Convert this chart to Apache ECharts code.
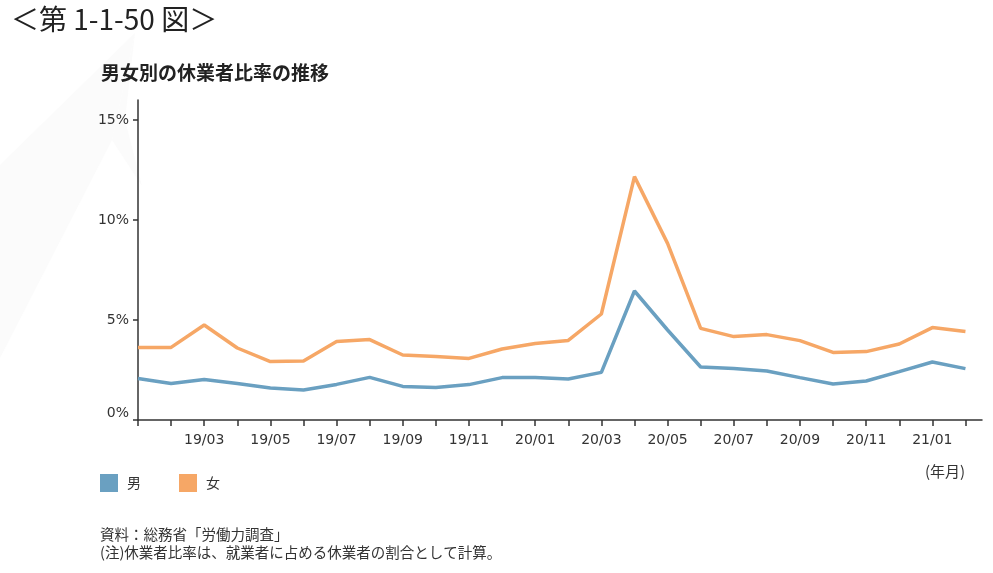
<!DOCTYPE html>
<html>
<head>
<meta charset="utf-8">
<script src="https://cdn.jsdelivr.net/npm/echarts@6/dist/echarts.min.js"></script>
<style>
html,body{margin:0;padding:0;background:#fff;}
#chart{width:993px;height:573px;}
</style>
</head>
<body>
<div id="chart"></div>
<script>
const months = ['19/01','19/02','19/03','19/04','19/05','19/06','19/07','19/08','19/09','19/10','19/11','19/12',
  '20/01','20/02','20/03','20/04','20/05','20/06','20/07','20/08','20/09','20/10','20/11','20/12','21/01','21/02'];
const male = [2.08,1.83,2.03,1.82,1.6,1.5,1.78,2.13,1.68,1.63,1.77,2.12,
  2.12,2.05,2.38,6.45,4.5,2.65,2.58,2.45,2.12,1.8,1.95,2.42,2.9,2.57];
const female = [3.63,3.63,4.75,3.6,2.92,2.95,3.92,4.02,3.25,3.17,3.08,3.55,
  3.82,3.98,5.3,12.17,8.83,4.58,4.17,4.27,3.97,3.38,3.42,3.8,4.62,4.42];
const yTicks = [0,5,10,15];
const xLabelIdx = [2,4,6,8,10,12,14,16,18,20,22,24];
const seriesNames = ['男','女'];
const colors = ['#6aa0c1','#f6a766'];

const toPairs = arr => arr.map((v,i)=>[i,v]);
const chart = echarts.init(document.getElementById('chart'));
const txt = '#333';
const font = "'DejaVu Sans', Verdana, sans-serif";
const jp = "'Noto Sans CJK JP', sans-serif";

chart.setOption({
  animation:false,
  backgroundColor:'#fff',
  color: colors,
  grid:{left:138, right:11, top:100, bottom:153, containLabel:false},
  xAxis:{
    type:'value', min:0, max:25.5,
    axisLine:{show:true, onZero:false, lineStyle:{color:'#333', width:1.5}},
    axisTick:{show:true, length:6, lineStyle:{color:'#333', width:1.5},
      customValues: months.map((m,i)=>i)},
    axisLabel:{color:txt, fontSize:14, fontFamily:font, margin:13,
      customValues: xLabelIdx,
      formatter: v => months[Math.round(v)] || ''},
    splitLine:{show:false}
  },
  yAxis:{
    type:'value', min:0, max:16,
    axisLine:{show:true, lineStyle:{color:'#333', width:1.5}},
    axisTick:{show:true, length:5, lineStyle:{color:'#333', width:1.5}, customValues:yTicks},
    axisLabel:{color:txt, fontSize:14, fontFamily:font, margin:9, customValues:yTicks,
      formatter: v => v === 0 ? '{z|0%}' : v + '%',
      rich:{z:{fontSize:14, fontFamily:font, color:txt, padding:[0,0,14,0]}}},
    splitLine:{show:false}
  },
  legend:{
    left:95, top:469, icon:'rect', itemWidth:18, itemHeight:18, itemGap:38,
    textStyle:{color:txt, fontSize:14, fontFamily:jp, padding:[0,0,0,4]},
    data: seriesNames
  },
  series:[
    {name:seriesNames[0], type:'line', data:toPairs(male), symbol:'none',
      lineStyle:{width:3.5, color:colors[0]}, itemStyle:{color:colors[0]}, z:3},
    {name:seriesNames[1], type:'line', data:toPairs(female), symbol:'none',
      lineStyle:{width:3.5, color:colors[1]}, itemStyle:{color:colors[1]}, z:2}
  ],
  graphic:[
    {type:'polygon', z:-10, silent:true,
      shape:{points:[[0,165],[135,33],[112,140],[0,358]]},
      style:{fill:'#fbfbfb'}},
    {type:'polygon', z:-10, silent:true,
      shape:{points:[[112,140],[135,33],[125,120],[142,186]]},
      style:{fill:'#fbfbfb'}},
    {type:'text', left:11, top:5, style:{text:'＜第 1-1-50 図＞', font:"normal 28px 'Noto Sans CJK JP', sans-serif", fill:'#222'}},
    {type:'text', left:101, top:63, style:{text:'男女別の休業者比率の推移', font:"bold 19px 'Noto Sans CJK JP', sans-serif", fill:'#222'}},
    {type:'text', left:925, top:464, style:{text:'(年月)', font:"normal 15px 'Noto Sans CJK JP', sans-serif", fill:txt}},
    {type:'text', left:100, top:527, style:{text:'資料：総務省「労働力調査」', font:"normal 14.5px 'Noto Sans CJK JP', sans-serif", fill:txt}},
    {type:'text', left:100, top:545, style:{text:'(注)休業者比率は、就業者に占める休業者の割合として計算。', font:"normal 14.5px 'Noto Sans CJK JP', sans-serif", fill:txt}}
  ]
});
</script>
</body>
</html>
